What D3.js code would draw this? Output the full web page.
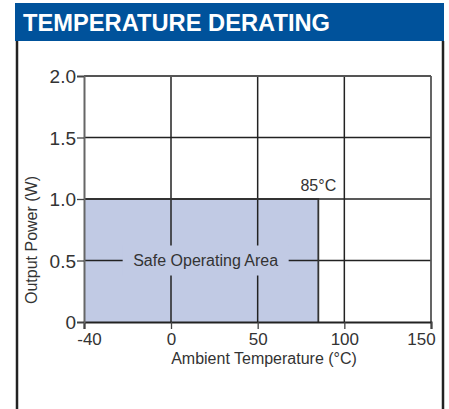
<!DOCTYPE html>
<html><head><meta charset="utf-8">
<script src="https://cdn.jsdelivr.net/npm/d3@7"></script>
<style>body{margin:0;background:#fff}svg{display:block}</style>
</head><body>
<svg id="c" width="449" height="409"></svg>
<script>
const title = "TEMPERATURE DERATING";
const xTicks = [-40, 0, 50, 100, 150];
const yTicks = [0, 0.5, 1.0, 1.5, 2.0];
const yTickLabels = ["0", "0.5", "1.0", "1.5", "2.0"];
const safeTemp = [-40, 85];
const safePower = [0, 1.0];
const safeLabel = "Safe Operating Area";
const cornerLabel = "85°C";
const xTitle = "Ambient Temperature (°C)";
const yTitle = "Output Power (W)";

const svg = d3.select("#c");
const font = "'Liberation Sans', Arial, sans-serif";
const ink = "#333";

// frame
svg.append("rect").attr("x",15).attr("y",3).attr("width",429).attr("height",38).attr("fill","#00529b");
svg.append("text").attr("x",23).attr("y",31).attr("fill","#fff")
  .attr("font-family",font).attr("font-weight","bold").attr("font-size",24)
  .attr("textLength",307).attr("lengthAdjust","spacingAndGlyphs").text(title);
svg.append("line").attr("x1",17).attr("x2",17).attr("y1",41).attr("y2",409).attr("stroke","#222").attr("stroke-width",2.5);
svg.append("line").attr("x1",443).attr("x2",443).attr("y1",41).attr("y2",409).attr("stroke","#222").attr("stroke-width",2.5);

// scales: left edge is labelled -40 (axis broken between -40 and 0)
const x = d3.scaleLinear().domain([-40, 0, 150]).range([84, 171, 431]);
const y = d3.scaleLinear().domain([0, 2]).range([322, 76]);

const g = svg.append("g");
// safe area
g.append("rect").attr("x",x(safeTemp[0])).attr("y",y(safePower[1]))
  .attr("width",x(safeTemp[1])-x(safeTemp[0])).attr("height",y(safePower[0])-y(safePower[1]))
  .attr("fill","#c1cae4");

// grid
xTicks.forEach(t => {
  if (t === -40 || t === 150) return;
  g.append("line").attr("x1",x(t)).attr("x2",x(t)).attr("y1",y(2)).attr("y2",y(0))
    .attr("stroke","#222").attr("stroke-width",1.5);
});
yTicks.forEach(t => {
  if (t === 0 || t === 2) return;
  g.append("line").attr("x1",x(-40)).attr("x2",x(150)).attr("y1",y(t)).attr("y2",y(t))
    .attr("stroke","#222").attr("stroke-width",1.5);
});
// plot border
g.append("line").attr("x1",x(-40)).attr("x2",x(150)).attr("y1",y(2)).attr("y2",y(2)).attr("stroke","#555").attr("stroke-width",1.8);
g.append("line").attr("x1",x(150)).attr("x2",x(150)).attr("y1",y(2)).attr("y2",y(0)).attr("stroke","#555").attr("stroke-width",1.8);

// safe area outline (top and right)
g.append("path").attr("d",`M${x(safeTemp[0])},${y(safePower[1])}H${x(safeTemp[1])}V${y(0)}`)
  .attr("fill","none").attr("stroke","#333").attr("stroke-width",1.8);

// axes
const xAxis = d3.axisBottom(x).tickValues(xTicks).tickSize(7).tickFormat(d => String(d));
const yAxis = d3.axisLeft(y).tickValues(yTicks).tickSize(7).tickFormat((d,i)=>yTickLabels[i]);
const ax = svg.append("g").attr("transform",`translate(0,${y(0)})`).call(xAxis);
const ay = svg.append("g").attr("transform",`translate(${x(-40)},0)`).call(yAxis);
[ax, ay].forEach(a => {
  a.select(".domain").attr("stroke","#666").attr("stroke-width",2);
  a.selectAll(".tick line").attr("stroke","#444").attr("stroke-width",1.3);
  a.selectAll("text").attr("font-family",font).attr("fill",ink);
});
ax.select(".domain").attr("stroke","#222");
ax.selectAll("text").attr("font-size",17).attr("y",11).attr("dy","0.71em")
  .attr("dx", d => d === -40 ? 5 : d === 150 ? -10 : 0);
ay.selectAll("text").attr("font-size",19).attr("x",-8).attr("dy","0.35em");

// safe label with background
const lx = x(20), ly = y(0.5);
g.append("rect").attr("x",lx-83).attr("y",ly-15).attr("width",166).attr("height",30).attr("fill","#c1cae4");
g.append("text").attr("x",lx).attr("y",ly).attr("dy","0.35em").attr("text-anchor","middle")
  .attr("font-family",font).attr("font-size",16).attr("fill",ink).text(safeLabel);

svg.append("text").attr("x",x(85)).attr("y",y(1.0)-8).attr("text-anchor","middle")
  .attr("font-family",font).attr("font-size",16).attr("fill",ink).text(cornerLabel);

svg.append("text").attr("x",264).attr("y",364).attr("text-anchor","middle")
  .attr("font-family",font).attr("font-size",16).attr("fill",ink).text(xTitle);
svg.append("text").attr("transform","translate(37,240) rotate(-90)").attr("text-anchor","middle")
  .attr("font-family",font).attr("font-size",16).attr("fill",ink).text(yTitle);
</script>
</body></html>
